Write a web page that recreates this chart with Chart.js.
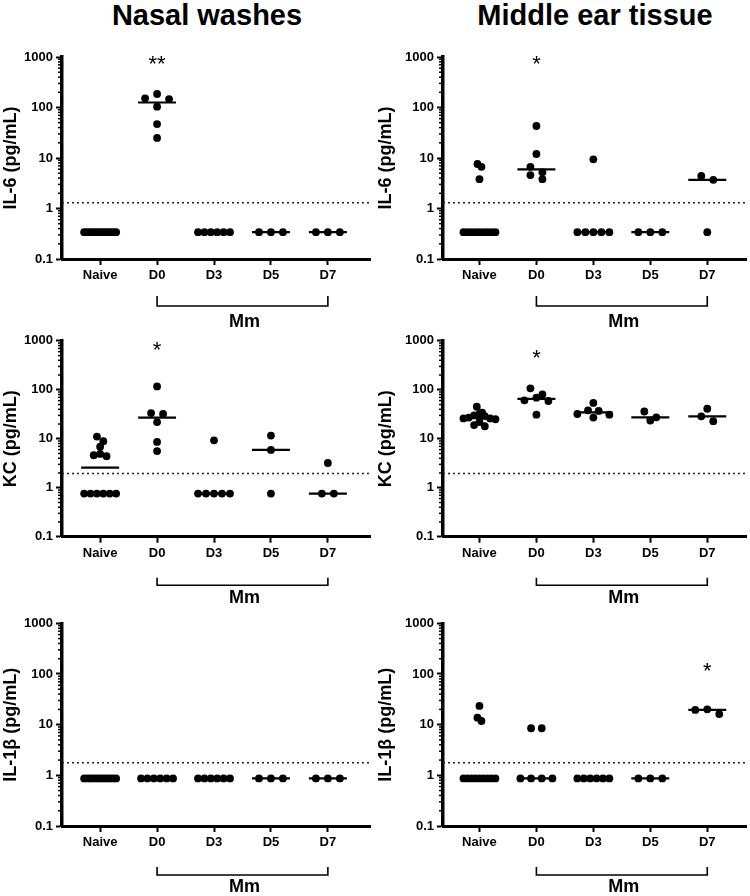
<!DOCTYPE html>
<html>
<head>
<meta charset="utf-8">
<script src="https://cdn.jsdelivr.net/npm/chart.js@4.4.0/dist/chart.umd.min.js"></script>
<style>
    body { margin: 0; background: #fff; font-family: 'Liberation Sans', Arial, sans-serif; }
    #wrap { position: relative; width: 750px; height: 896px; overflow: hidden; }
    .title { position: absolute; top: 0; width: 400px; text-align: center; font-weight: bold; font-size: 29px; line-height: 30px; color: #000; }
    canvas { position: absolute; }
</style>
</head>
<body>
<div id="wrap">
    <div class="title" style="left:7px">Nasal washes</div>
    <div class="title" style="left:395px">Middle ear tissue</div>
    <canvas id="nasalIL6"></canvas>
    <canvas id="earIL6"></canvas>
    <canvas id="nasalKC"></canvas>
    <canvas id="earKC"></canvas>
    <canvas id="nasalIL1b"></canvas>
    <canvas id="earIL1b"></canvas>
</div>
<script>
// --- Data (pg/mL), one array per group: Naive, D0, D3, D5, D7 ---
const groups = ['Naive', 'D0', 'D3', 'D5', 'D7'];
const yTickValues = [0.1, 1, 10, 100, 1000];

const nasalIL6 = [
    [0.34, 0.34, 0.34, 0.34, 0.34, 0.34, 0.34, 0.34, 0.34, 0.34, 0.34, 0.34],
    [185, 152, 147, 104, 47, 25],
    [0.34, 0.34, 0.34, 0.34, 0.34, 0.34],
    [0.34, 0.34, 0.34],
    [0.34, 0.34, 0.34]
];
const nasalIL6Lod = 1.3;
const nasalIL6Sig = { group: 1, text: '**', at: 950 };

const earIL6 = [
    [7.6, 6.7, 3.8, 0.34, 0.34, 0.34, 0.34, 0.34, 0.34, 0.34, 0.34, 0.34],
    [43, 12, 6.7, 5.2, 4.6, 3.8],
    [9.4, 0.34, 0.34, 0.34, 0.34, 0.34],
    [0.34, 0.34, 0.34],
    [4.4, 3.7, 0.34]
];
const earIL6Lod = 1.3;
const earIL6Sig = { group: 1, text: '*', at: 950 };

const nasalKC = [
    [11.1, 8.9, 6.9, 4.9, 4.6, 4.4, 0.76, 0.76, 0.76, 0.76, 0.76, 0.76],
    [117, 33.5, 32, 21.9, 8.6, 5.6],
    [9.3, 0.76, 0.76, 0.76, 0.76, 0.76],
    [11.6, 5.9, 0.76],
    [3.2, 0.76, 0.76]
];
const nasalKCLod = 1.96;
const nasalKCSig = { group: 1, text: '*', at: 860 };

const earKC = [
    [45, 34, 32, 30, 29, 27, 26, 26, 25, 22, 19, 18],
    [107, 80, 69, 61, 59, 31],
    [54, 38, 37, 32, 31, 27],
    [36, 27.4, 23.6],
    [41, 28.7, 22.8]
];
const earKCLod = 1.96;
const earKCSig = { group: 1, text: '*', at: 590 };

const nasalIL1b = [
    [0.87, 0.87, 0.87, 0.87, 0.87, 0.87, 0.87, 0.87, 0.87, 0.87, 0.87, 0.87],
    [0.87, 0.87, 0.87, 0.87, 0.87, 0.87],
    [0.87, 0.87, 0.87, 0.87, 0.87, 0.87],
    [0.87, 0.87, 0.87],
    [0.87, 0.87, 0.87]
];
const nasalIL1bLod = 1.78;

const earIL1b = [
    [23.4, 13.7, 11.8, 0.87, 0.87, 0.87, 0.87, 0.87, 0.87, 0.87, 0.87, 0.87],
    [8.5, 8.5, 0.87, 0.87, 0.87, 0.87],
    [0.87, 0.87, 0.87, 0.87, 0.87, 0.87],
    [0.87, 0.87, 0.87],
    [20.1, 19.5, 16.2]
];
const earIL1bLod = 1.78;
const earIL1bSig = { group: 4, text: '*', at: 150 };

// --- Layout ---
const FONT = "'Liberation Sans', Arial, sans-serif";
const PX_PER_CAT = 57;
const PX_PER_DECADE = 50.7;
const DOT_D = 7.5;
const ROWS = [
    { top: 30, h: 300, padTop: 27, padBottom: 39, bTop: 37, bBot: 47, mm: 63 },
    { top: 330, h: 280, padTop: 3.3, padBottom: 41.3, bTop: 41, bBot: 48.5, mm: 61.5 },
    { top: 610, h: 286, padTop: 13.3, padBottom: 38, bTop: 41, bBot: 49, mm: 61 }
];
const COLS = [
    { left: 0, axisW: 62, padRight: 5, xMin: -0.67, xMax: 4.74 },
    { left: 375, axisW: 68, padRight: 3, xMin: -0.64, xMax: 4.68 }
];

const panels = [
    { id: 'nasalIL6', vals: nasalIL6, lod: nasalIL6Lod, sig: nasalIL6Sig, title: 'IL-6 (pg/mL)', row: 0, col: 0 },
    { id: 'earIL6', vals: earIL6, lod: earIL6Lod, sig: earIL6Sig, title: 'IL-6 (pg/mL)', row: 0, col: 1 },
    { id: 'nasalKC', vals: nasalKC, lod: nasalKCLod, sig: nasalKCSig, title: 'KC (pg/mL)', row: 1, col: 0 },
    { id: 'earKC', vals: earKC, lod: earKCLod, sig: earKCSig, title: 'KC (pg/mL)', row: 1, col: 1 },
    { id: 'nasalIL1b', vals: nasalIL1b, lod: nasalIL1bLod, sig: null, title: 'IL-1β (pg/mL)', row: 2, col: 0 },
    { id: 'earIL1b', vals: earIL1b, lod: earIL1bLod, sig: earIL1bSig, title: 'IL-1β (pg/mL)', row: 2, col: 1 }
];

function median(a) {
    const s = a.slice().sort((p, q) => p - q);
    const n = s.length;
    return n % 2 ? s[(n - 1) / 2] : (s[n / 2 - 1] + s[n / 2]) / 2;
}

// Simple row-based scatter spread (like GraphPad's column scatter)
function swarm(vals) {
    const sorted = vals.slice().sort((a, b) => b - a);
    const rows = [];
    sorted.forEach(v => {
        const py = Math.log10(v) * PX_PER_DECADE;
        const row = rows[rows.length - 1];
        if (row && row.top - py < DOT_D) row.vals.push(v);
        else rows.push({ top: py, vals: [v] });
    });
    const kmax = Math.max(...rows.map(r => r.vals.length));
    const s = kmax > 1 ? Math.min(12, 32 / (kmax - 1)) : 12;
    const out = [];
    rows.forEach(r => {
        const k = r.vals.length;
        const slots = [];
        for (let i = 0; i < k; i++) slots.push((i - (k - 1) / 2) * s);
        slots.sort((a, b) => Math.abs(a) - Math.abs(b) || a - b);
        r.vals.forEach((v, i) => out.push({ dx: slots[i], v }));
    });
    return out;
}

function makeExtras(panel, row) {
    return {
        id: 'extras_' + panel.id,
        afterDraw(chart) {
            const ctx = chart.ctx;
            const xs = chart.scales.x, ys = chart.scales.y;
            const area = chart.chartArea;
            ctx.save();
            ctx.strokeStyle = '#000';
            ctx.fillStyle = '#000';

            // minor log ticks
            ctx.lineWidth = 1.5;
            for (let d = -1; d <= 2; d++) {
                for (let m = 2; m <= 9; m++) {
                    const y = ys.getPixelForValue(m * Math.pow(10, d));
                    ctx.beginPath();
                    ctx.moveTo(area.left - 4, y);
                    ctx.lineTo(area.left, y);
                    ctx.stroke();
                }
            }

            // Mm bracket under D0..D7
            const x0 = xs.getPixelForValue(1), x1 = xs.getPixelForValue(4);
            const yt = area.bottom + row.bTop, yb = area.bottom + row.bBot;
            ctx.lineWidth = 1.6;
            ctx.beginPath();
            ctx.moveTo(x0, yt);
            ctx.lineTo(x0, yb);
            ctx.lineTo(x1, yb);
            ctx.lineTo(x1, yt);
            ctx.stroke();
            ctx.font = 'bold 18px ' + FONT;
            ctx.textAlign = 'center';
            ctx.textBaseline = 'middle';
            ctx.fillText('Mm', (x0 + x1) / 2 + 2, area.bottom + row.mm);

            // significance stars
            if (panel.sig) {
                ctx.font = '22px ' + FONT;
                ctx.textBaseline = 'alphabetic';
                ctx.fillText(panel.sig.text, xs.getPixelForValue(panel.sig.group), ys.getPixelForValue(panel.sig.at) + 12.5);
            }
            ctx.restore();
        }
    };
}

panels.forEach(panel => {
    const row = ROWS[panel.row], col = COLS[panel.col];
    const canvas = document.getElementById(panel.id);
    canvas.width = 375;
    canvas.height = row.h;
    canvas.style.left = col.left + 'px';
    canvas.style.top = row.top + 'px';

    const pts = [];
    panel.vals.forEach((g, gi) => {
        swarm(g).forEach(p => pts.push({ x: gi + p.dx / PX_PER_CAT, y: p.v }));
    });

    const hw = 19 / PX_PER_CAT;
    const datasets = [{
        data: pts,
        pointRadius: 3.9,
        pointBackgroundColor: '#000',
        pointBorderWidth: 0,
        showLine: false,
        order: 0
    }];
    panel.vals.forEach((g, gi) => {
        const med = median(g);
        datasets.push({
            data: [{ x: gi - hw, y: med }, { x: gi + hw, y: med }],
            showLine: true,
            borderColor: '#000',
            borderWidth: 2.2,
            pointRadius: 0,
            order: 1
        });
    });
    datasets.push({
        data: [{ x: col.xMin, y: panel.lod }, { x: col.xMax, y: panel.lod }],
        showLine: true,
        borderColor: '#222',
        borderWidth: 1.5,
        borderDash: [2, 3],
        pointRadius: 0,
        order: 2
    });

    const tickFont = { family: FONT, size: 13, weight: 'bold' };

    new Chart(canvas.getContext('2d'), {
        type: 'scatter',
        data: { datasets },
        options: {
            responsive: false,
            animation: false,
            events: [],
            layout: { padding: { left: 0, right: col.padRight, top: row.padTop, bottom: row.padBottom } },
            plugins: { legend: { display: false }, tooltip: { enabled: false } },
            scales: {
                x: {
                    type: 'linear',
                    min: col.xMin,
                    max: col.xMax,
                    afterBuildTicks: s => { s.ticks = groups.map((g, i) => ({ value: i })); },
                    afterFit: s => { s.height = 32; },
                    ticks: { autoSkip: false, maxRotation: 0, padding: 3, color: '#000', font: tickFont, callback: v => groups[v] ?? '' },
                    grid: { drawOnChartArea: false, tickLength: 6, tickWidth: 2, tickColor: '#000' },
                    border: { display: true, width: 3, color: '#000' }
                },
                y: {
                    type: 'logarithmic',
                    min: 0.1,
                    max: 1000,
                    afterBuildTicks: s => { s.ticks = yTickValues.map(v => ({ value: v, major: true })); },
                    afterFit: s => { s.width = col.axisW; },
                    ticks: { padding: 3, color: '#000', font: tickFont, callback: v => String(v) },
                    grid: { drawOnChartArea: false, tickLength: 6, tickWidth: 2, tickColor: '#000' },
                    border: { display: true, width: 3.5, color: '#000' },
                    title: { display: true, text: panel.title, color: '#000', font: { family: FONT, size: 18, weight: 'bold' }, padding: { top: 0, bottom: 0 } }
                }
            }
        },
        plugins: [makeExtras(panel, row)]
    });
});
</script>
</body>
</html>
